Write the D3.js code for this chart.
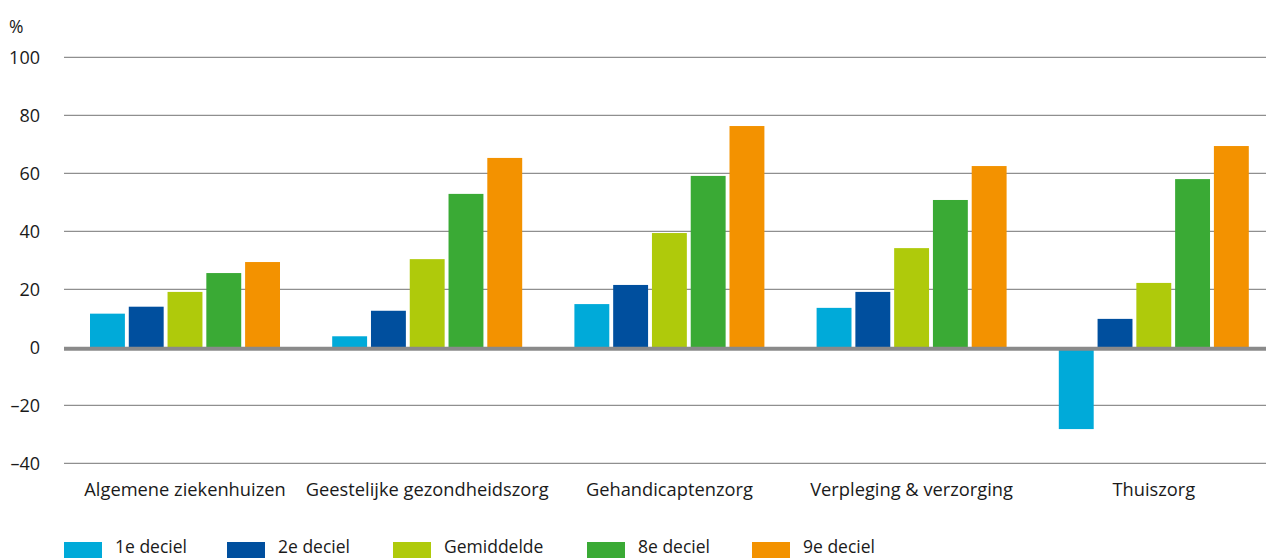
<!DOCTYPE html>
<html>
<head>
<meta charset="utf-8">
<script src="https://cdn.jsdelivr.net/npm/d3@7"></script>
<style>
  body { margin: 0; background: #fff; }
  svg { display: block; font-family: "Open Sans", "Noto Sans", sans-serif; }
</style>
</head>
<body>
<div id="chart"></div>
<script>
// DATA
const categories = ["Algemene ziekenhuizen", "Geestelijke gezondheidszorg", "Gehandicaptenzorg", "Verpleging & verzorging", "Thuiszorg"];
const seriesNames = ["1e deciel", "2e deciel", "Gemiddelde", "8e deciel", "9e deciel"];
const deciel1 = [11.6, 3.8, 14.9, 13.6, -28.2];
const deciel2 = [14.0, 12.6, 21.5, 19.1, 9.8];
const gemiddelde = [19.1, 30.4, 39.4, 34.2, 22.2];
const deciel8 = [25.6, 52.9, 59.1, 50.8, 58.0];
const deciel9 = [29.4, 65.3, 76.3, 62.5, 69.4];
const yTicks = [-40, -20, 0, 20, 40, 60, 80, 100];

// CONSTANTS
const WIDTH = 1266;
const HEIGHT = 558;
const FONT = "'Open Sans', 'Noto Sans', sans-serif";
const colors = ["#00aad9", "#004f9e", "#afca0b", "#3aaa35", "#f39200"];
const legendX = [64, 227, 393, 587, 752];

const seriesValues = [deciel1, deciel2, gemiddelde, deciel8, deciel9];
const rows = categories.map((c, i) => ({
  category: c,
  values: seriesNames.map((s, j) => ({ series: s, value: seriesValues[j][i] }))
}));

const svg = d3.select("#chart")
  .append("svg")
  .attr("width", WIDTH)
  .attr("height", HEIGHT);

const x0 = d3.scaleBand()
  .domain(categories)
  .range([64, 1275]);

const x1 = d3.scaleBand()
  .domain(seriesNames)
  .range([26, 216])
  .paddingInner(0.1);

const y = d3.scaleLinear()
  .domain([-40, 100])
  .range([463.3, 57.3]);

const color = d3.scaleOrdinal().domain(seriesNames).range(colors);

// gridlines
svg.append("g")
  .selectAll("line")
  .data(yTicks.filter(d => d !== 0))
  .join("line")
  .attr("x1", 64)
  .attr("x2", WIDTH)
  .attr("y1", d => y(d))
  .attr("y2", d => y(d))
  .attr("stroke", "#8f8f8f")
  .attr("stroke-width", 1.2);

// y labels
const yAxis = svg.append("g")
  .attr("transform", "translate(40,0)")
  .call(d3.axisLeft(y).tickValues(yTicks).tickSize(0).tickPadding(0)
    .tickFormat(d => d < 0 ? "\u2013" + Math.abs(d) : d));
yAxis.select(".domain").remove();
yAxis.selectAll("text")
  .attr("font-family", FONT)
  .attr("font-size", 18)
  .attr("fill", "#1a1a1a");

svg.append("text")
  .attr("x", 9)
  .attr("y", 33)
  .attr("font-size", 17.5)
  .attr("fill", "#1a1a1a")
  .text("%");

// bars
svg.append("g")
  .selectAll("g")
  .data(rows)
  .join("g")
  .attr("transform", d => `translate(${x0(d.category)},0)`)
  .selectAll("rect")
  .data(d => d.values)
  .join("rect")
  .attr("x", d => x1(d.series))
  .attr("width", x1.bandwidth())
  .attr("y", d => y(Math.max(0, d.value)))
  .attr("height", d => Math.abs(y(d.value) - y(0)))
  .attr("fill", d => color(d.series));

// zero line
svg.append("line")
  .attr("x1", 64)
  .attr("x2", WIDTH)
  .attr("y1", y(0) + 1.4)
  .attr("y2", y(0) + 1.4)
  .attr("stroke", "#8a8a8a")
  .attr("stroke-width", 4);

// category labels
svg.append("g")
  .selectAll("text")
  .data(categories)
  .join("text")
  .attr("x", d => x0(d) + 121)
  .attr("y", 496)
  .attr("text-anchor", "middle")
  .attr("font-size", 18.3)
  .attr("fill", "#1a1a1a")
  .text(d => d);

// legend
const legend = svg.append("g")
  .selectAll("g")
  .data(seriesNames)
  .join("g")
  .attr("transform", (d, i) => `translate(${legendX[i]},0)`);

legend.append("rect")
  .attr("y", 542)
  .attr("width", 38)
  .attr("height", 18)
  .attr("fill", d => color(d));

legend.append("text")
  .attr("x", 51)
  .attr("y", 553)
  .attr("font-size", 17.5)
  .attr("fill", "#1a1a1a")
  .text(d => d);
</script>
</body>
</html>
